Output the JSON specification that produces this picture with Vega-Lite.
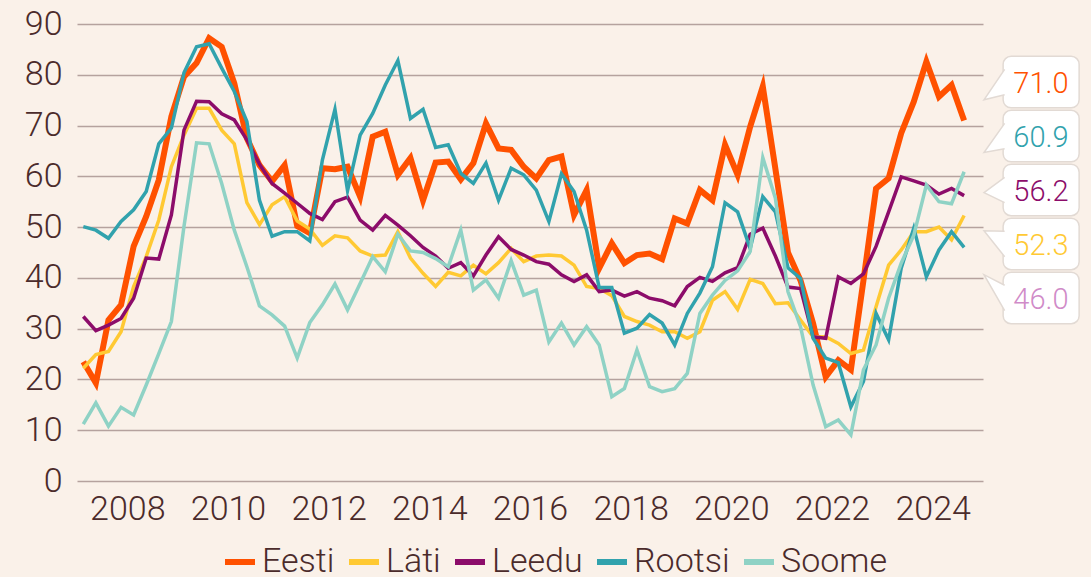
{
  "$schema": "https://vega.github.io/schema/vega-lite/v6.json",
  "autosize": {"type": "none"},
  "width": 906,
  "height": 457,
  "padding": {"left": 77, "top": 24, "right": 108, "bottom": 96},
  "background": "#faf1e9",
  "config": {"view": {"stroke": null}, "font": "Roboto"},
  "data": {"values": [
    {"t": 2007.125, "Eesti": 23.5, "Läti": 22.2, "Leedu": 32.4, "Rootsi": 50.1, "Soome": 11.2},
    {"t": 2007.375, "Eesti": 19.3, "Läti": 24.9, "Leedu": 29.6, "Rootsi": 49.4, "Soome": 15.4},
    {"t": 2007.625, "Eesti": 31.7, "Läti": 25.5, "Leedu": 30.7, "Rootsi": 47.8, "Soome": 10.8},
    {"t": 2007.875, "Eesti": 34.7, "Läti": 29.4, "Leedu": 32.0, "Rootsi": 51.1, "Soome": 14.5},
    {"t": 2008.125, "Eesti": 46.2, "Läti": 38.3, "Leedu": 36.0, "Rootsi": 53.4, "Soome": 13.0},
    {"t": 2008.375, "Eesti": 52.1, "Läti": 44.2, "Leedu": 43.9, "Rootsi": 57.0, "Soome": 18.9},
    {"t": 2008.625, "Eesti": 59.3, "Läti": 51.4, "Leedu": 43.7, "Rootsi": 66.4, "Soome": 25.1},
    {"t": 2008.875, "Eesti": 71.8, "Läti": 61.9, "Leedu": 52.4, "Rootsi": 69.5, "Soome": 31.4},
    {"t": 2009.125, "Eesti": 79.6, "Läti": 68.1, "Leedu": 69.1, "Rootsi": 80.4, "Soome": 50.1},
    {"t": 2009.375, "Eesti": 82.3, "Läti": 73.4, "Leedu": 74.8, "Rootsi": 85.5, "Soome": 66.6},
    {"t": 2009.625, "Eesti": 87.2, "Läti": 73.4, "Leedu": 74.7, "Rootsi": 86.1, "Soome": 66.4},
    {"t": 2009.875, "Eesti": 85.5, "Läti": 69.1, "Leedu": 72.3, "Rootsi": 81.3, "Soome": 58.6},
    {"t": 2010.125, "Eesti": 78.3, "Läti": 66.4, "Leedu": 71.1, "Rootsi": 76.7, "Soome": 49.4},
    {"t": 2010.375, "Eesti": 67.5, "Läti": 54.8, "Leedu": 67.2, "Rootsi": 70.8, "Soome": 42.2},
    {"t": 2010.625, "Eesti": 62.2, "Läti": 50.5, "Leedu": 62.4, "Rootsi": 55.3, "Soome": 34.5},
    {"t": 2010.875, "Eesti": 59.0, "Läti": 54.4, "Leedu": 58.6, "Rootsi": 48.2, "Soome": 32.7},
    {"t": 2011.125, "Eesti": 62.2, "Läti": 56.0, "Leedu": 56.7, "Rootsi": 49.1, "Soome": 30.5},
    {"t": 2011.375, "Eesti": 50.2, "Läti": 51.2, "Leedu": 54.7, "Rootsi": 49.1, "Soome": 24.2},
    {"t": 2011.625, "Eesti": 48.8, "Läti": 49.6, "Leedu": 52.7, "Rootsi": 47.3, "Soome": 31.2},
    {"t": 2011.875, "Eesti": 61.6, "Läti": 46.4, "Leedu": 51.5, "Rootsi": 63.2, "Soome": 34.7},
    {"t": 2012.125, "Eesti": 61.4, "Läti": 48.3, "Leedu": 55.0, "Rootsi": 73.2, "Soome": 38.8},
    {"t": 2012.375, "Eesti": 61.9, "Läti": 47.9, "Leedu": 55.9, "Rootsi": 57.2, "Soome": 33.7},
    {"t": 2012.625, "Eesti": 56.0, "Läti": 45.3, "Leedu": 51.4, "Rootsi": 68.1, "Soome": 38.9},
    {"t": 2012.875, "Eesti": 67.8, "Läti": 44.3, "Leedu": 49.4, "Rootsi": 72.4, "Soome": 44.2},
    {"t": 2013.125, "Eesti": 68.8, "Läti": 44.5, "Leedu": 52.3, "Rootsi": 78.0, "Soome": 41.2},
    {"t": 2013.375, "Eesti": 60.3, "Läti": 49.1, "Leedu": 50.4, "Rootsi": 82.8, "Soome": 48.6},
    {"t": 2013.625, "Eesti": 63.6, "Läti": 43.9, "Leedu": 48.3, "Rootsi": 71.4, "Soome": 45.3},
    {"t": 2013.875, "Eesti": 55.3, "Läti": 40.9, "Leedu": 46.0, "Rootsi": 73.2, "Soome": 45.0},
    {"t": 2014.125, "Eesti": 62.7, "Läti": 38.3, "Leedu": 44.3, "Rootsi": 65.7, "Soome": 43.8},
    {"t": 2014.375, "Eesti": 62.9, "Läti": 41.1, "Leedu": 41.9, "Rootsi": 66.2, "Soome": 42.2},
    {"t": 2014.625, "Eesti": 59.4, "Läti": 40.4, "Leedu": 43.0, "Rootsi": 60.6, "Soome": 49.4},
    {"t": 2014.875, "Eesti": 62.6, "Läti": 42.5, "Leedu": 40.4, "Rootsi": 58.6, "Soome": 37.6},
    {"t": 2015.125, "Eesti": 70.4, "Läti": 40.8, "Leedu": 44.5, "Rootsi": 62.6, "Soome": 39.6},
    {"t": 2015.375, "Eesti": 65.5, "Läti": 43.0, "Leedu": 48.1, "Rootsi": 55.3, "Soome": 36.0},
    {"t": 2015.625, "Eesti": 65.2, "Läti": 45.8, "Leedu": 45.6, "Rootsi": 61.6, "Soome": 43.4},
    {"t": 2015.875, "Eesti": 61.9, "Läti": 43.2, "Leedu": 44.5, "Rootsi": 60.3, "Soome": 36.6},
    {"t": 2016.125, "Eesti": 59.6, "Läti": 44.3, "Leedu": 43.2, "Rootsi": 57.3, "Soome": 37.6},
    {"t": 2016.375, "Eesti": 63.2, "Läti": 44.5, "Leedu": 42.7, "Rootsi": 51.1, "Soome": 27.4},
    {"t": 2016.625, "Eesti": 63.9, "Läti": 44.3, "Leedu": 40.6, "Rootsi": 60.5, "Soome": 31.1},
    {"t": 2016.875, "Eesti": 52.4, "Läti": 42.5, "Leedu": 39.3, "Rootsi": 57.0, "Soome": 26.8},
    {"t": 2017.125, "Eesti": 57.3, "Läti": 38.3, "Leedu": 40.6, "Rootsi": 49.4, "Soome": 30.4},
    {"t": 2017.375, "Eesti": 41.9, "Läti": 37.9, "Leedu": 37.3, "Rootsi": 38.1, "Soome": 26.8},
    {"t": 2017.625, "Eesti": 46.8, "Läti": 36.5, "Leedu": 37.6, "Rootsi": 38.1, "Soome": 16.6},
    {"t": 2017.875, "Eesti": 42.9, "Läti": 32.4, "Leedu": 36.4, "Rootsi": 29.1, "Soome": 18.2},
    {"t": 2018.125, "Eesti": 44.5, "Läti": 31.4, "Leedu": 37.3, "Rootsi": 30.1, "Soome": 25.8},
    {"t": 2018.375, "Eesti": 44.8, "Läti": 30.7, "Leedu": 36.0, "Rootsi": 32.8, "Soome": 18.6},
    {"t": 2018.625, "Eesti": 43.7, "Läti": 29.4, "Leedu": 35.5, "Rootsi": 31.1, "Soome": 17.6},
    {"t": 2018.875, "Eesti": 51.7, "Läti": 29.4, "Leedu": 34.5, "Rootsi": 26.8, "Soome": 18.2},
    {"t": 2019.125, "Eesti": 50.7, "Läti": 28.1, "Leedu": 38.3, "Rootsi": 33.0, "Soome": 21.2},
    {"t": 2019.375, "Eesti": 57.3, "Läti": 29.4, "Leedu": 40.1, "Rootsi": 37.0, "Soome": 33.0},
    {"t": 2019.625, "Eesti": 55.3, "Läti": 35.6, "Leedu": 39.3, "Rootsi": 42.2, "Soome": 36.6},
    {"t": 2019.875, "Eesti": 66.2, "Läti": 37.3, "Leedu": 41.0, "Rootsi": 54.8, "Soome": 39.5},
    {"t": 2020.125, "Eesti": 60.3, "Läti": 33.8, "Leedu": 42.0, "Rootsi": 53.0, "Soome": 41.4},
    {"t": 2020.375, "Eesti": 69.8, "Läti": 39.7, "Leedu": 48.6, "Rootsi": 45.8, "Soome": 45.2},
    {"t": 2020.625, "Eesti": 77.7, "Läti": 38.9, "Leedu": 49.8, "Rootsi": 56.0, "Soome": 63.7},
    {"t": 2020.875, "Eesti": 61.5, "Läti": 34.9, "Leedu": 44.3, "Rootsi": 53.0, "Soome": 55.7},
    {"t": 2021.125, "Eesti": 45.0, "Läti": 35.1, "Leedu": 38.2, "Rootsi": 42.0, "Soome": 37.3},
    {"t": 2021.375, "Eesti": 39.5, "Läti": 31.7, "Leedu": 37.9, "Rootsi": 39.9, "Soome": 30.4},
    {"t": 2021.625, "Eesti": 31.0, "Läti": 28.4, "Leedu": 28.4, "Rootsi": 28.1, "Soome": 18.9},
    {"t": 2021.875, "Eesti": 20.5, "Läti": 28.4, "Leedu": 28.1, "Rootsi": 24.2, "Soome": 10.7},
    {"t": 2022.125, "Eesti": 23.8, "Läti": 27.1, "Leedu": 40.2, "Rootsi": 23.3, "Soome": 12.0},
    {"t": 2022.375, "Eesti": 21.9, "Läti": 25.1, "Leedu": 38.9, "Rootsi": 14.6, "Soome": 9.1},
    {"t": 2022.625, "Eesti": 39.5, "Läti": 25.8, "Leedu": 40.8, "Rootsi": 19.6, "Soome": 21.9},
    {"t": 2022.875, "Eesti": 57.6, "Läti": 34.3, "Leedu": 46.2, "Rootsi": 33.0, "Soome": 26.8},
    {"t": 2023.125, "Eesti": 59.6, "Läti": 42.5, "Leedu": 53.0, "Rootsi": 27.8, "Soome": 36.0},
    {"t": 2023.375, "Eesti": 68.5, "Läti": 45.5, "Leedu": 59.9, "Rootsi": 41.9, "Soome": 42.9},
    {"t": 2023.625, "Eesti": 74.7, "Läti": 49.1, "Leedu": 59.1, "Rootsi": 49.8, "Soome": 48.4},
    {"t": 2023.875, "Eesti": 82.6, "Läti": 49.1, "Leedu": 58.3, "Rootsi": 40.2, "Soome": 58.3},
    {"t": 2024.125, "Eesti": 75.7, "Läti": 50.0, "Leedu": 56.5, "Rootsi": 45.5, "Soome": 55.0},
    {"t": 2024.375, "Eesti": 78.0, "Läti": 47.5, "Leedu": 57.6, "Rootsi": 49.1, "Soome": 54.6},
    {"t": 2024.625, "Eesti": 71.0, "Läti": 52.3, "Leedu": 56.2, "Rootsi": 46.0, "Soome": 60.9}
  ]},
  "resolve": {"axis": {"x": "independent", "y": "independent"}},
  "layer": [
    {
      "transform": [
        {"fold": ["Eesti", "Läti", "Leedu", "Rootsi", "Soome"], "as": ["riik", "v"]},
        {"filter": "datum.riik == 'Eesti'"}
      ],
      "mark": {"type": "line", "strokeWidth": 6, "strokeJoin": "miter", "strokeMiterLimit": 6},
      "encoding": {
        "x": {"field": "t", "type": "quantitative",
          "scale": {"domain": [2007, 2025], "nice": false, "zero": false},
          "axis": {"values": [2008, 2010, 2012, 2014, 2016, 2018, 2020, 2022, 2024], "format": "d", "grid": false, "domain": false, "ticks": false, "tickSize": 0, "labelPadding": 11, "labelFontSize": 34, "labelFontWeight": 300, "labelColor": "#4b2b2b", "labelFlush": false, "labelOverlap": false, "title": null}},
        "y": {"field": "v", "type": "quantitative",
          "scale": {"domain": [0, 90], "nice": false},
          "axis": {"values": [0, 10, 20, 30, 40, 50, 60, 70, 80, 90], "grid": true, "gridColor": "#b5a29e", "gridWidth": 1.4, "domain": false, "ticks": false, "tickSize": 0, "labelPadding": 15, "labelFontSize": 34, "labelFontWeight": 300, "labelColor": "#4b2b2b", "labelFlush": false, "title": null}},
        "color": {"field": "riik", "type": "nominal",
          "scale": {"domain": ["Eesti", "Läti", "Leedu", "Rootsi", "Soome"], "range": ["#ff5100", "#ffc933", "#8c0c6a", "#31a2ad", "#8fd2c5"]},
          "legend": {"orient": "none", "legendX": 145, "legendY": 520, "direction": "horizontal", "gridAlign": "none", "title": null, "symbolType": "stroke", "symbolSize": 900, "symbolStrokeWidth": 6, "labelFontSize": 34, "labelFontWeight": 300, "labelColor": "#4b2b2b", "labelOffset": 4, "columnPadding": 2, "padding": 0, "labelLimit": 300}}
      }
    },
    {
      "transform": [
        {"fold": ["Eesti", "Läti", "Leedu", "Rootsi", "Soome"], "as": ["riik", "v"]},
        {"filter": "datum.riik != 'Eesti'"}
      ],
      "mark": {"type": "line", "strokeWidth": 3.5, "strokeJoin": "miter", "strokeMiterLimit": 6},
      "encoding": {
        "x": {"field": "t", "type": "quantitative", "axis": null},
        "y": {"field": "v", "type": "quantitative", "axis": null},
        "color": {"field": "riik", "type": "nominal"}
      }
    },
    {
      "transform": [
        {"fold": ["Eesti", "Läti", "Leedu", "Rootsi", "Soome"], "as": ["riik", "v"]},
        {"joinaggregate": [{"op": "max", "field": "t", "as": "tmax"}]},
        {"filter": "datum.t == datum.tmax"},
        {"window": [{"op": "row_number", "as": "r"}], "sort": [{"field": "v", "order": "descending"}]},
        {"calculate": "78.57 - (datum.r - 1) * 10.63", "as": "ly"},
        {"calculate": "datum.ly + 5.07", "as": "y1"},
        {"calculate": "datum.ly - 5.07", "as": "y2"}
      ],
      "mark": {"type": "rect", "fill": "#ffffff", "stroke": "#e2dad4", "strokeWidth": 1.5, "cornerRadius": 8},
      "encoding": {
        "x": {"datum": 2025.4, "type": "quantitative", "axis": null},
        "x2": {"datum": 2026.91},
        "y": {"field": "y1", "type": "quantitative", "axis": null},
        "y2": {"field": "y2"}
      }
    },
    {
      "transform": [
        {"fold": ["Eesti", "Läti", "Leedu", "Rootsi", "Soome"], "as": ["riik", "v"]},
        {"joinaggregate": [{"op": "max", "field": "t", "as": "tmax"}]},
        {"filter": "datum.t == datum.tmax"},
        {"window": [{"op": "row_number", "as": "r"}], "sort": [{"field": "v", "order": "descending"}]},
        {"calculate": "78.57 - (datum.r - 1) * 10.63", "as": "ly"},
        {"calculate": "datum.ly + 2.5", "as": "a"},
        {"calculate": "datum.ly + 0.46 * (datum.v - datum.ly)", "as": "tip"},
        {"calculate": "datum.ly - 2.5", "as": "b"},
        {"fold": ["a", "tip", "b"], "as": ["k", "py"]},
        {"calculate": "datum.k == 'tip' ? 2025.02 : 2025.43", "as": "px"},
        {"calculate": "indexof(['a', 'tip', 'b'], datum.k)", "as": "o"}
      ],
      "mark": {"type": "line", "fill": "#ffffff", "stroke": "#e2dad4", "strokeWidth": 1.5, "strokeJoin": "miter"},
      "encoding": {
        "x": {"field": "px", "type": "quantitative", "axis": null},
        "y": {"field": "py", "type": "quantitative", "axis": null},
        "detail": {"field": "riik"},
        "order": {"field": "o", "type": "quantitative"}
      }
    },
    {
      "transform": [
        {"fold": ["Eesti", "Läti", "Leedu", "Rootsi", "Soome"], "as": ["riik", "v"]},
        {"joinaggregate": [{"op": "max", "field": "t", "as": "tmax"}]},
        {"filter": "datum.t == datum.tmax"},
        {"window": [{"op": "row_number", "as": "r"}], "sort": [{"field": "v", "order": "descending"}]},
        {"calculate": "78.57 - (datum.r - 1) * 10.63", "as": "ly"}
      ],
      "mark": {"type": "text", "fontSize": 29, "fontWeight": 300, "align": "center", "baseline": "middle", "dy": 2},
      "encoding": {
        "x": {"datum": 2026.15, "type": "quantitative", "axis": null},
        "y": {"field": "ly", "type": "quantitative", "axis": null},
        "text": {"field": "v", "type": "quantitative", "format": ".1f"},
        "fill": {"field": "riik", "type": "nominal",
          "scale": {"domain": ["Eesti", "Läti", "Leedu", "Rootsi", "Soome"], "range": ["#ff5100", "#ffc933", "#8c0c6a", "#d08bc8", "#31a2ad"]},
          "legend": null}
      }
    }
  ]
}
